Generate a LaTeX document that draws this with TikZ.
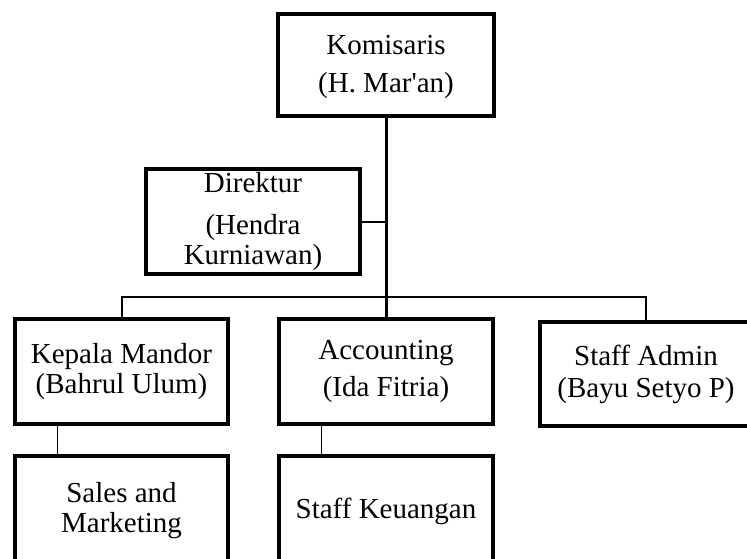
\documentclass[tikz,border=0pt]{standalone}
\usepackage{fontspec}
\setmainfont{Liberation Serif}
\usepackage{tikz}
\usetikzlibrary{positioning}

\begin{document}
\begin{tikzpicture}[
  x=1pt, y=-1pt,
  font=\fontsize{29}{30}\selectfont,
  orgbox/.style={
    draw,
    line width=4pt,
    align=center,
    inner sep=0pt
  },
  trunk/.style={line width=3pt},
  link/.style={line width=2pt},
  stub/.style={line width=1pt}
]
\useasboundingbox (0,0) rectangle (747,558);
\clip (0,0) rectangle (747,558);

% Top of the chart
\node[orgbox, minimum width=216pt, minimum height=102pt] (komisaris) at (386,65)
  {\rule{0pt}{23pt}Komisaris\\[8pt](H. Mar\textquotesingle an)};
\node[orgbox, minimum width=214pt, minimum height=105pt] (direktur) at (253,221.5)
  {Direktur\\[12pt](Hendra\\Kurniawan)};

% Middle row
\node[orgbox, minimum width=213pt, minimum height=105pt] (kepala) at (121.5,371.5)
  {Kepala Mandor\\(Bahrul Ulum)};
\node[orgbox, minimum width=214pt, minimum height=105pt] (accounting) at (386,371.5)
  {Accounting\\[7pt](Ida Fitria)};
\node[orgbox, minimum width=212pt, minimum height=104pt] (admin) at (646,374)
  {Staff Admin\\[2pt](Bayu Setyo P)};

% Bottom row (runs off the page)
\node[orgbox, minimum width=213pt, minimum height=110pt] (sales) at (121.5,511)
  {Sales and\\Marketing};
\node[orgbox, minimum width=214pt, minimum height=110pt] (keuangan) at (386,511)
  {Staff Keuangan};

% Lines
\coordinate (bus) at (386,297);
\draw[trunk] (komisaris.south) -- (accounting.north);
\draw[link] (direktur.east) -- (direktur.east -| komisaris.south);
\draw[link] (kepala.north) |- (bus) -| (admin.north);
\draw[stub] ([xshift=-64.5pt]kepala.south) -- ([xshift=-64.5pt]sales.north);
\draw[stub] ([xshift=-65pt]accounting.south) -- ([xshift=-65pt]keuangan.north);

\end{tikzpicture}
\end{document}
